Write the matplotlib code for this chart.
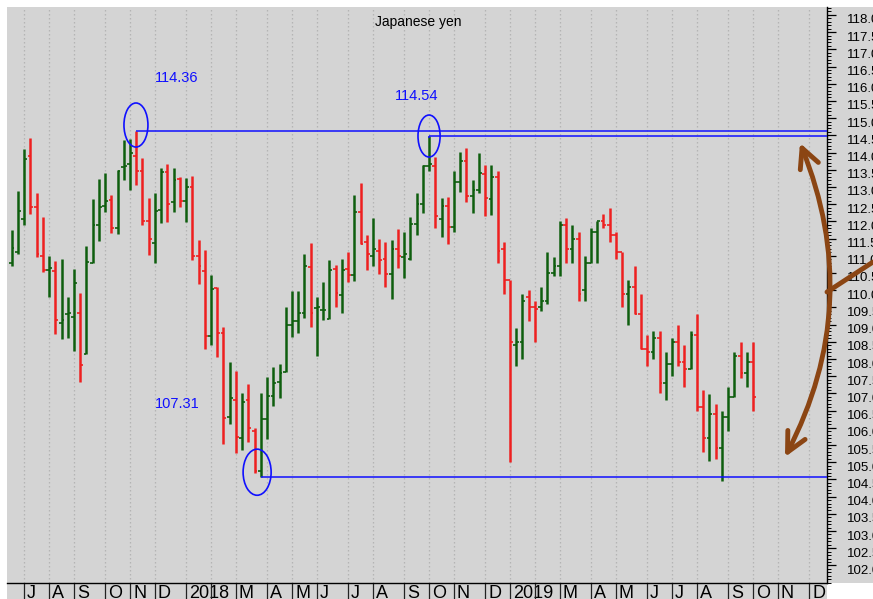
import numpy as np
import pandas as pd
import matplotlib
matplotlib.use("Agg")
import matplotlib.pyplot as plt
import matplotlib.transforms as mtransforms
from matplotlib.patches import Ellipse, Rectangle, FancyArrowPatch
from matplotlib.lines import Line2D
from matplotlib.ticker import FixedLocator, MultipleLocator

plt.rcParams['font.family'] = ['Liberation Sans', 'DejaVu Sans']

# ---------------- data (weekly USD/JPY bars, Fridays) ----------------
first_week = "2017-06-23"
opens = [110.78, 111.10, 112.07, 113.90, 112.43, 111.00, 110.60, 110.57, 109.04, 109.30,
         109.23, 109.35, 108.15, 110.80, 111.90, 112.45, 112.62, 111.80, 113.59, 113.67,
         113.91, 113.45, 112.00, 111.38, 112.32, 113.43, 112.57, 113.23, 112.60, 112.99,
         111.00, 110.57, 108.67, 110.05, 108.75, 106.32, 106.81, 105.69, 106.80, 105.90,
         104.75, 106.25, 106.92, 107.32, 107.63, 108.99, 109.10, 109.35, 110.68, 109.48,
         109.41, 109.17, 110.63, 109.86, 110.63, 110.44, 112.28, 111.40, 111.00, 111.14,
         110.90, 110.47, 111.20, 110.95, 110.90, 111.92, 112.50, 113.62, 113.62, 112.06,
         112.45, 111.83, 113.15, 113.76, 112.75, 112.90, 113.38, 112.66, 113.30, 111.20,
         110.30, 108.40, 108.50, 109.80, 109.50, 109.50, 109.70, 110.50, 110.70, 111.90,
         111.20, 111.50, 110.00, 110.80, 111.70, 112.00, 111.90, 111.60, 111.10, 109.90,
         110.10, 109.30, 108.30, 108.20, 108.60, 107.30, 107.85, 108.50, 107.90, 107.70,
         108.70, 106.60, 105.70, 106.40, 105.40, 106.30, 106.90, 108.10, 107.60, 107.90]
highs = [111.75, 112.88, 114.10, 114.41, 112.83, 112.14, 111.00, 110.86, 110.90, 109.80,
         110.62, 109.91, 111.28, 112.65, 113.22, 113.40, 112.77, 113.50, 114.37, 114.39,
         114.64, 113.83, 112.69, 112.82, 113.54, 113.67, 113.56, 113.28, 113.25, 113.32,
         111.46, 111.17, 110.44, 110.10, 108.92, 107.90, 107.66, 107.02, 107.27, 106.00,
         107.00, 107.49, 107.78, 107.85, 109.52, 109.98, 109.98, 111.04, 111.36, 109.81,
         110.23, 110.88, 110.73, 110.90, 111.10, 112.77, 113.11, 111.60, 112.09, 111.48,
         111.39, 111.46, 111.77, 111.70, 112.12, 112.82, 113.64, 114.48, 113.88, 112.69,
         112.72, 113.45, 114.03, 114.12, 113.20, 113.98, 113.64, 113.64, 113.45, 111.40,
         110.30, 108.90, 109.90, 110.00, 109.70, 110.10, 111.10, 110.95, 112.00, 112.10,
         111.90, 111.70, 111.00, 111.80, 112.00, 112.20, 112.40, 111.70, 111.10, 110.30,
         110.70, 109.90, 108.70, 108.80, 108.80, 108.20, 108.60, 108.99, 108.40, 108.80,
         109.30, 107.10, 106.98, 106.70, 106.50, 107.20, 108.20, 108.50, 108.20, 108.50]
lows = [110.70, 111.05, 111.90, 112.20, 110.96, 110.53, 109.81, 108.73, 108.58, 108.62,
        108.24, 107.33, 108.14, 110.80, 111.43, 112.28, 111.65, 111.62, 113.20, 112.91,
        113.06, 111.90, 111.02, 110.80, 111.96, 111.99, 112.28, 112.41, 111.99, 110.88,
        110.17, 108.28, 108.41, 108.05, 105.53, 106.10, 105.26, 105.35, 105.60, 104.68,
        104.58, 105.67, 106.63, 106.87, 107.63, 108.63, 108.75, 109.18, 108.94, 108.09,
        109.13, 109.16, 109.52, 109.33, 110.25, 110.27, 111.33, 110.60, 110.71, 110.46,
        110.10, 109.74, 110.64, 110.34, 110.88, 111.60, 112.24, 113.47, 111.80, 111.56,
        111.33, 111.70, 112.86, 112.57, 112.24, 112.82, 112.17, 112.19, 110.78, 109.90,
        105.00, 107.80, 108.00, 109.10, 108.50, 109.40, 109.60, 110.40, 110.40, 110.80,
        110.80, 109.70, 109.70, 110.80, 110.80, 111.80, 111.40, 110.90, 109.50, 109.00,
        109.30, 108.30, 107.80, 108.00, 107.00, 106.80, 107.50, 107.80, 107.20, 107.70,
        106.50, 105.30, 105.05, 105.10, 104.45, 105.90, 106.90, 107.45, 107.20, 106.50]
closes = [111.22, 112.30, 113.80, 112.43, 111.05, 110.60, 110.65, 109.13, 109.13, 109.33,
          110.22, 107.83, 110.81, 111.90, 112.43, 112.60, 111.80, 113.47, 113.62, 113.98,
          113.45, 112.01, 111.49, 112.31, 113.43, 112.50, 113.20, 112.60, 112.99, 111.00,
          110.71, 108.67, 110.03, 108.75, 106.28, 106.87, 105.72, 106.76, 106.00, 104.75,
          106.25, 106.92, 107.31, 107.60, 108.99, 109.10, 109.35, 110.71, 109.35, 109.52,
          109.42, 110.60, 109.93, 110.60, 110.44, 112.28, 111.33, 111.05, 111.20, 110.88,
          110.47, 111.20, 111.00, 111.05, 111.92, 112.50, 113.62, 113.66, 112.16, 112.46,
          111.83, 113.15, 113.76, 112.75, 112.91, 113.40, 112.67, 113.30, 111.15, 110.30,
          108.50, 108.50, 109.70, 109.50, 109.45, 109.70, 110.50, 110.70, 111.90, 111.20,
          111.50, 109.90, 110.80, 111.70, 112.00, 111.90, 111.60, 111.10, 109.90, 110.10,
          109.30, 108.30, 108.20, 108.60, 107.30, 107.85, 108.50, 107.90, 107.70, 108.70,
          106.60, 105.70, 106.40, 105.40, 106.30, 106.90, 108.10, 107.60, 107.90, 106.90]

month_labels = ['J', 'A', 'S', 'O', 'N', 'D', '2018', '', 'M', 'A', 'M', 'J', 'J', 'A', 'S',
                'O', 'N', 'D', '2019', '', 'M', 'A', 'M', 'J', 'J', 'A', 'S', 'O', 'N', 'D']
first_month = "2017-07-01"
title = "Japanese yen"
note_labels = ["114.36", "114.54", "107.31"]

# ---------------- figure geometry ----------------
W, H = 873, 599
L, R, T, B = 7, 826.5, 7, 583
fig = plt.figure(figsize=(W / 100, H / 100), dpi=100, facecolor='white')
gray = '#d4d4d4'
fig.patches.append(Rectangle((L / W, 1 - B / H), 1 - L / W, (B - T) / H,
                             transform=fig.transFigure, facecolor=gray, edgecolor='none', zorder=-10))
fig.patches.append(Rectangle((L / W, 0), (R - L) / W, 1 - B / H,
                             transform=fig.transFigure, facecolor=gray, edgecolor='none', zorder=-10))
ax = fig.add_axes([L / W, 1 - B / H, (R - L) / W, (B - T) / H])
ax.set_facecolor(gray)

n = len(opens)
idx = np.arange(n)
o = np.array(opens); h = np.array(highs); l = np.array(lows); c = np.array(closes)
up = c >= o
red, green = '#ee2020', '#0e5e0e'
cols = np.where(up, green, red)

ax.vlines(idx, l, h, colors=cols, linewidth=1.8, zorder=3)
ax.hlines(o, idx - 0.45, idx, colors=cols, linewidth=1.2, zorder=3)
ax.hlines(c, idx, idx + 0.45, colors=cols, linewidth=1.2, zorder=3)

ax.set_xlim(-0.75, 130.8)
ax.set_ylim(101.49, 118.23)

# month ticks at first weekly bar of each month
dates = pd.date_range(first_week, periods=160, freq='W-FRI')
months = pd.date_range(first_month, periods=len(month_labels), freq='MS')
mpos = [int(np.argmax(dates >= m)) for m in months]
ax.xaxis.set_major_locator(FixedLocator(mpos))
ax.set_xticklabels(month_labels, ha='left', fontsize=13)
ax.tick_params(axis='x', which='major', direction='out', length=11.5, width=0.9,
               color='#222222', pad=-10)
xoff = mtransforms.ScaledTranslation(3 / 100, 0, fig.dpi_scale_trans)
for lab in ax.get_xticklabels():
    lab.set_transform(lab.get_transform() + xoff)
ax.grid(axis='x', which='major', color='#b4b4b4', linestyle=(0, (1.2, 2)), linewidth=0.9)
ax.set_axisbelow(True)

# right price axis
ax.yaxis.tick_right()
ax.yaxis.set_major_locator(MultipleLocator(0.5))
ax.yaxis.set_minor_locator(MultipleLocator(0.1))
yt = np.arange(102.0, 118.01, 0.5)
ax.set_yticks(yt)
ax.set_yticklabels([f"{v:.1f}" for v in yt], fontsize=9.5)
ax.tick_params(axis='y', which='major', direction='out', length=6.5, width=0.9, pad=8)
ax.tick_params(axis='y', which='minor', direction='out', length=3, width=0.7)
yoff = mtransforms.ScaledTranslation(0, -4 / 100, fig.dpi_scale_trans)
for lab in ax.get_yticklabels():
    lab.set_transform(lab.get_transform() + yoff)

for s in ['top', 'left']:
    ax.spines[s].set_visible(False)
ax.spines['right'].set_linewidth(1.0)
ax.spines['bottom'].set_linewidth(1.0)

# support / resistance lines and circles
xr = ax.get_xlim()[1]
blue = '#1010ff'
ax.hlines(h[20], 20, xr, colors=blue, linewidth=1.1, zorder=4)
ax.hlines(h[67], 67, xr, colors=blue, linewidth=1.1, zorder=4)
ax.vlines(67, h[67] - 0.05, h[67], colors=blue, linewidth=1.1, zorder=4)
ax.hlines(l[40], 40, xr, colors=blue, linewidth=1.1, zorder=4)
for (cx, cy, ew, eh) in [(19.95, 114.80, 3.85, 1.28), (67.0, 114.48, 3.55, 1.22), (39.4, 104.71, 4.5, 1.34)]:
    ax.add_patch(Ellipse((cx, cy), ew, eh, fill=False, edgecolor=blue, linewidth=1.2, zorder=5))

ax.text(23.0, 116.17, note_labels[0], color=blue, fontsize=10.5, va='center', ha='left')
ax.text(61.5, 115.65, note_labels[1], color=blue, fontsize=10.5, va='center', ha='left')
ax.text(23.0, 106.69, note_labels[2], color=blue, fontsize=10.5, va='center', ha='left')

fig.text(418 / W, 1 - 22 / H, title, ha='center', va='center', fontsize=10)

# brown double arrow
brown = '#8B4513'
arr = FancyArrowPatch((800 / W, 1 - 143 / H), (785 / W, 1 - 457 / H), transform=fig.transFigure,
                      arrowstyle='<->,head_length=0.7,head_width=0.35', mutation_scale=20,
                      connectionstyle='arc3,rad=-0.23', color=brown, linewidth=3.5,
                      shrinkA=0, shrinkB=0, zorder=10)
fig.add_artist(arr)
fig.add_artist(Line2D([827 / W, 1.0], [1 - 292 / H, 1 - 262 / H], transform=fig.transFigure,
                      color=brown, linewidth=3.5, solid_capstyle='round', zorder=10))

fig.savefig('out.png', dpi=100, facecolor=fig.get_facecolor())
